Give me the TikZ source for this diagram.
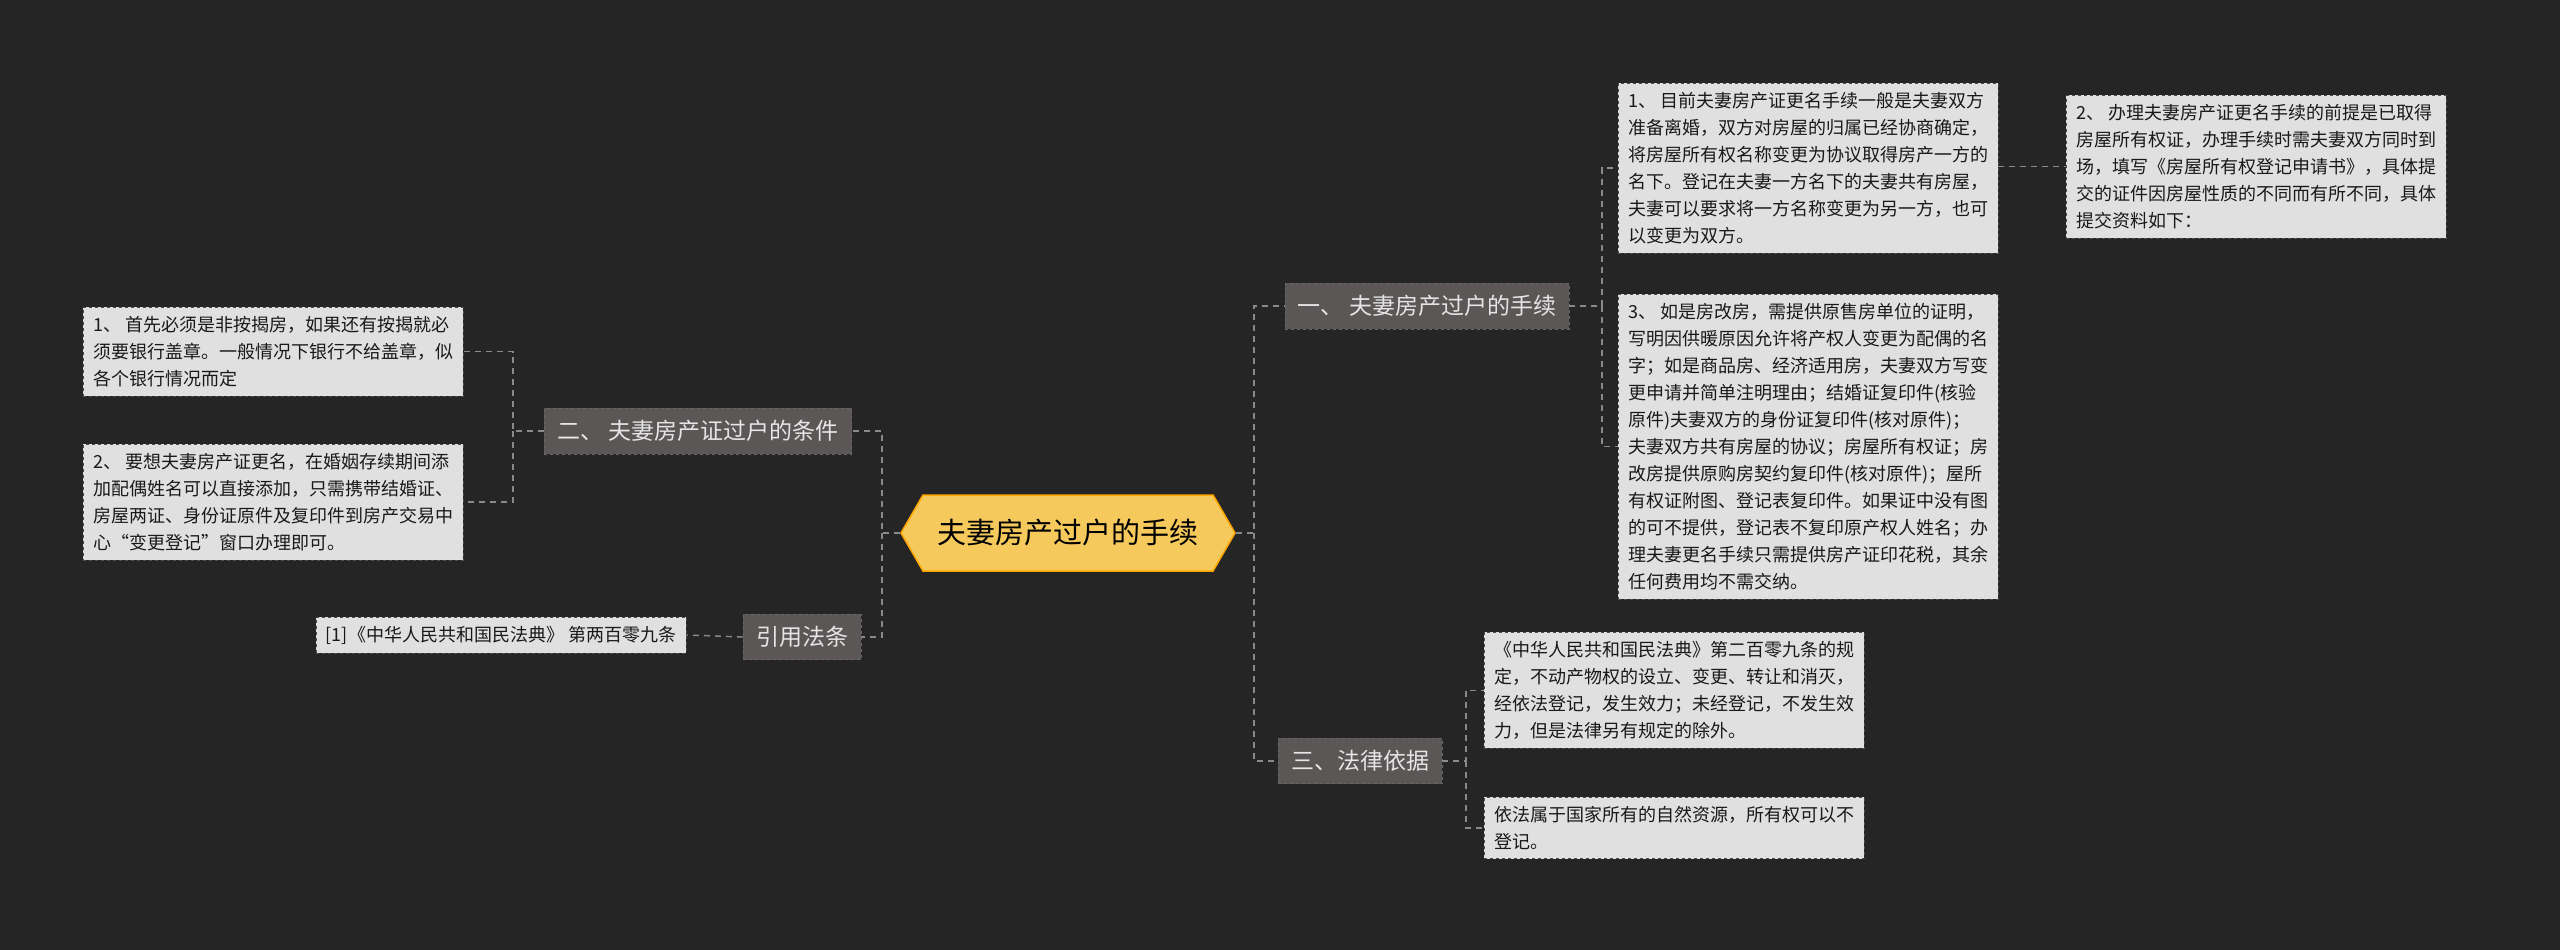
\documentclass[tikz,border=0pt]{standalone}
\usepackage{fontspec}
\setmainfont{Noto Sans CJK SC}
\usetikzlibrary{shapes.symbols}
\definecolor{bg}{HTML}{252525}
\definecolor{leaf}{HTML}{E0E0E0}
\definecolor{br}{HTML}{5B5756}
\definecolor{rootc}{HTML}{F6C95C}
\definecolor{conn}{HTML}{8A8A8A}
\begin{document}
\begin{tikzpicture}[x=1pt,y=-1pt,
  leafbox/.style={draw=black!70,dashed,fill=leaf,text=black!90,font=\fontsize{18}{27}\selectfont,align=left,inner xsep=10pt,inner ysep=9pt,anchor=north west},
  brbox/.style={fill=br,draw=black!60,dashed,text=white!90!black,font=\fontsize{23}{28}\selectfont,inner xsep=13pt,inner ysep=12pt},
  cn/.style={draw=conn,dashed,line width=1.4pt,dash pattern=on 6pt off 5pt}]
\fill[bg] (0,0) rectangle (2560,950);
\useasboundingbox (0,0) rectangle (2560,950);
\node[signal,signal to=west and east,signal pointer angle=120,fill=rootc,draw=orange!70!yellow,line width=1.5pt,minimum height=76pt,minimum width=334pt,font=\fontsize{29}{34}\selectfont,text=black] (root) at (1068,533) {夫妻房产过户的手续};
\node[brbox] (b1) at (1427,306) {一、 夫妻房产过户的手续};
\node[brbox] (b3) at (1360,761) {三、法律依据};
\node[brbox] (b2) at (698,431) {二、 夫妻房产证过户的条件};
\node[brbox] (b4) at (802,637) {引用法条};
\node[leafbox] (l1) at (1618,83) {1、 目前夫妻房产证更名手续一般是夫妻双方\\准备离婚，双方对房屋的归属已经协商确定，\\将房屋所有权名称变更为协议取得房产一方的\\名下。登记在夫妻一方名下的夫妻共有房屋，\\夫妻可以要求将一方名称变更为另一方，也可\\以变更为双方。};
\node[leafbox] (l2) at (2066,95) {2、 办理夫妻房产证更名手续的前提是已取得\\房屋所有权证，办理手续时需夫妻双方同时到\\场，填写《房屋所有权登记申请书》，具体提\\交的证件因房屋性质的不同而有所不同，具体\\提交资料如下：};
\node[leafbox] (l3) at (1618,294) {3、 如是房改房，需提供原售房单位的证明，\\写明因供暖原因允许将产权人变更为配偶的名\\字；如是商品房、经济适用房，夫妻双方写变\\更申请并简单注明理由；结婚证复印件(核验\\原件)夫妻双方的身份证复印件(核对原件)；\\夫妻双方共有房屋的协议；房屋所有权证；房\\改房提供原购房契约复印件(核对原件)；屋所\\有权证附图、登记表复印件。如果证中没有图\\的可不提供，登记表不复印原产权人姓名；办\\理夫妻更名手续只需提供房产证印花税，其余\\任何费用均不需交纳。};
\node[leafbox] (w1) at (1484,632) {《中华人民共和国民法典》第二百零九条的规\\定，不动产物权的设立、变更、转让和消灭，\\经依法登记，发生效力；未经登记，不发生效\\力，但是法律另有规定的除外。};
\node[leafbox] (w2) at (1484,797) {依法属于国家所有的自然资源，所有权可以不\\登记。};
\node[leafbox] (c1) at (83,307) {1、 首先必须是非按揭房，如果还有按揭就必\\须要银行盖章。一般情况下银行不给盖章，似\\各个银行情况而定};
\node[leafbox] (c2) at (83,444) {2、 要想夫妻房产证更名，在婚姻存续期间添\\加配偶姓名可以直接添加，只需携带结婚证、\\房屋两证、身份证原件及复印件到房产交易中\\心“变更登记”窗口办理即可。};
\node[leafbox,anchor=center] (ct) at (501,635) {[1]《中华人民共和国民法典》 第两百零九条};
% connectors
\draw[cn] (root.east) -- (1254,533) |- (b1.west);
\draw[cn] (1254,533) |- (b3.west);
\draw[cn] (root.west) -- (882,533) |- (b2.east);
\draw[cn] (882,533) |- (b4.east);
\draw[cn] (b1.east) -- (1602,306) |- (l1.west);
\draw[cn] (1602,306) |- (l3.west);
\draw[cn] (l1.east |- l2.west) -- (l2.west);
\draw[cn] (b3.east) -- (1466,761) |- (w1.west);
\draw[cn] (1466,761) |- (w2.west);
\draw[cn] (b2.west) -- (513,431) |- (c1.east);
\draw[cn] (513,431) |- (c2.east);
\draw[cn] (b4.west) -- (ct.east);
\end{tikzpicture}
\end{document}
